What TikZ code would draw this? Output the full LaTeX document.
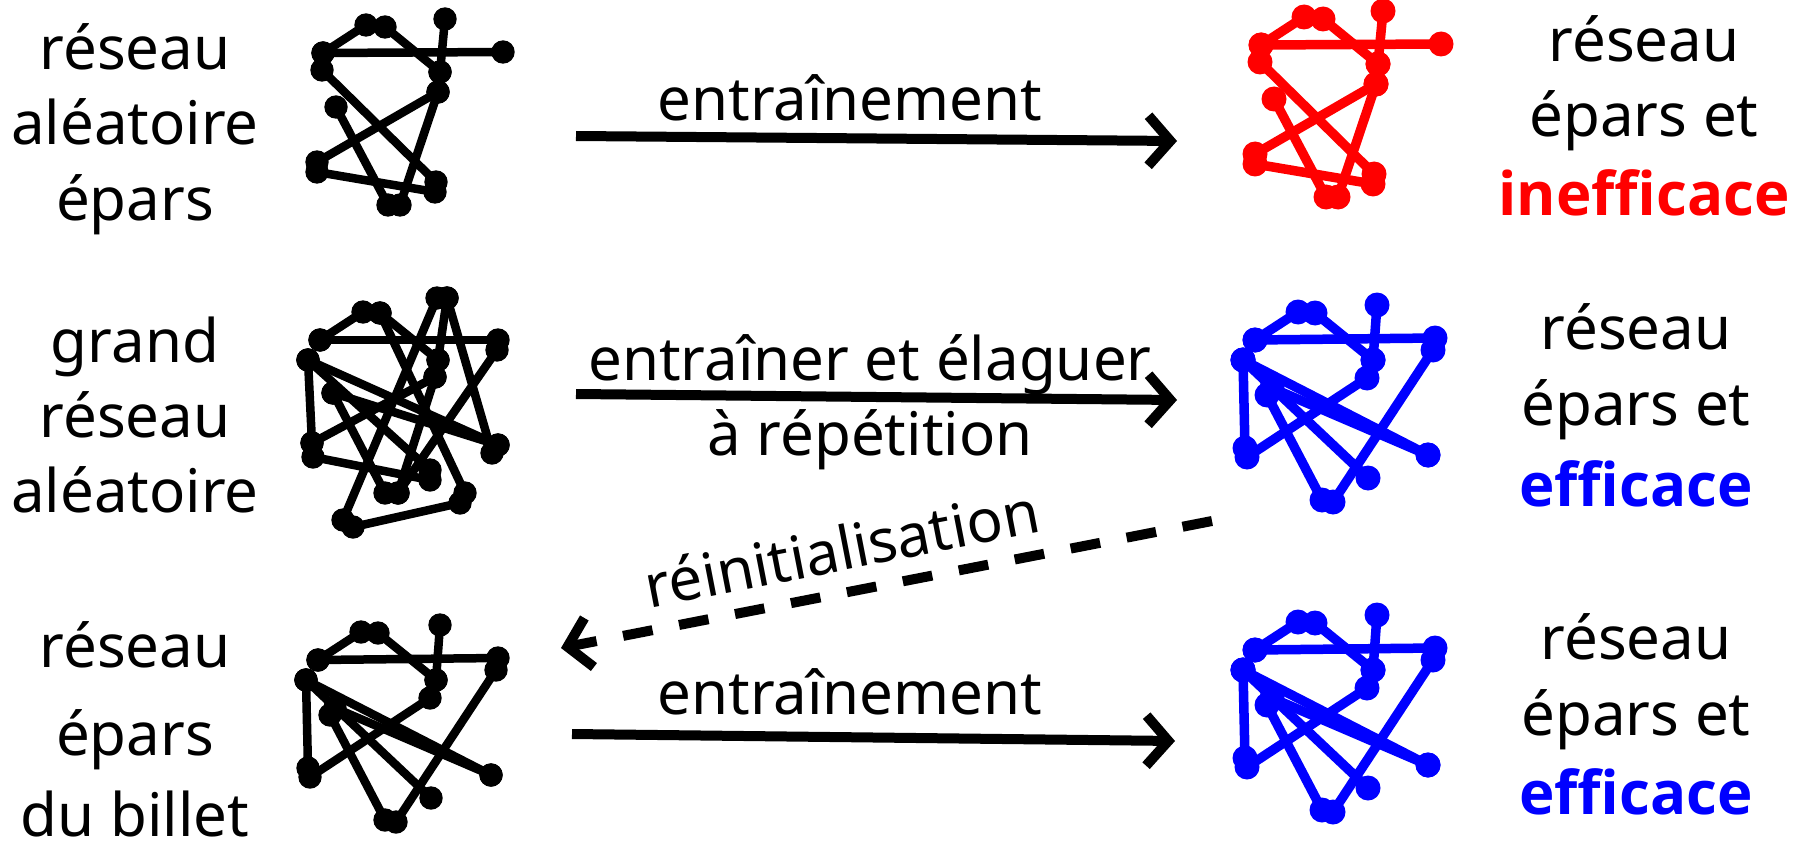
\documentclass[tikz,border=0pt]{standalone}
\usepackage{fontspec}
\setmainfont{Noto Sans}
\newfontfamily\heavyfont{Open Sans}
\usetikzlibrary{arrows.meta}
\definecolor{netred}{RGB}{255,0,0}
\definecolor{netblue}{RGB}{0,0,255}

% #1 prefix, #2 colour, #3 shift, #4 point list macro, #5 edge list macro, #6 line width, #7 dot radius
\newcommand\netgraph[7]{%
  \begin{scope}[shift={#3}]
    \foreach \n/\x/\y in #4 {\coordinate (#1\n) at (\x,\y);}
  \end{scope}
  \foreach \a/\b in #5 {\draw[draw=#2, line width=#6] (#1\a) -- (#1\b);}
  \foreach \a/\b in #5 {\fill[#2] (#1\a) circle[radius=#7] (#1\b) circle[radius=#7];}
}

% point sets
\newcommand\sparsepts{A/76/25, B/95/27, C/155/19, D/213/52, E/33/53, F/32/70, G/150/72, H/148/92, I/46/107, J/27/162, K/27/172, L/146/182, M/145/192, N/98/205, O/110/205}
\newcommand\sparseedges{E/A, B/G, E/D, C/G, F/L, H/J, H/O, I/N, K/M}
\newcommand\ticketpts{A/78/32, B/95/33, C/157/25, D/215/58, D2/213/70, E/35/60, F/23/80, G/153/80, H/147/98, I/47/115, I2/52/108, J/25/168, K/27/177, R/208/175, S/148/198, N/102/220, O/113/222}
\newcommand\ticketedges{E/A, B/G, E/D, C/G, F/J, H/K, F/R, I2/R, F/S, I/N, D2/O}
\newcommand\densepts{A/73/32, B/90/33, T/147/18, C/157/18, E/30/60, F/18/80, D/208/60, D2/207/70, G/148/80, H/145/97, I/43/113, J/22/163, K/23/177, R/208/165, R2/202/173, L/140/190, M/140/200, N/95/213, O/108/213, U/175/213, U2/170/223, V/53/240, V2/63/247}
\newcommand\denseedges{E/A, B/G, E/D, C/G, F/L, H/J, H/O, I/N, K/M, F/J, F/R, I/R, D2/O, T/V, C/R2, V2/U2, B/U}

\begin{document}
\begin{tikzpicture}[x=1pt,y=-1pt,
  word/.style={font=\fontsize{60}{75}\selectfont, inner sep=0pt, anchor=base},
  strong/.style={word, font=\heavyfont\bfseries\fontsize{60}{75}\selectfont},
  flow/.style={line width=10pt, -{Straight Barb[length=22pt,width=50pt]}},
  reset/.style={flow, dash pattern=on 30pt off 27pt},
]
\useasboundingbox (0,0) rectangle (1806,861);

% networks
\netgraph{s}{black}{(290,0)}{\sparsepts}{\sparseedges}{8.5pt}{11.7pt}
\netgraph{r}{netred}{(1228,-8)}{\sparsepts}{\sparseedges}{9.5pt}{12.5pt}
\netgraph{d}{black}{(290,280)}{\densepts}{\denseedges}{8.5pt}{11.7pt}
\netgraph{w}{netblue}{(1220,280)}{\ticketpts}{\ticketedges}{9.5pt}{12.5pt}
\netgraph{t}{black}{(283,600)}{\ticketpts}{\ticketedges}{8.5pt}{11.7pt}
\netgraph{v}{netblue}{(1220,590)}{\ticketpts}{\ticketedges}{9.5pt}{12.5pt}

% left column
\node[word] (l1) at (135,70) {réseau};
\node[word] (l2) at (135,145) {aléatoire};
\node[word] (l3) at (135,220) {épars};
\node[word] (l4) at (135,362) {grand};
\node[word] (l5) at (135,437) {réseau};
\node[word] (l6) at (135,512) {aléatoire};
\node[word] (l7) at (135,667) {réseau};
\node[word] (l8) at (135,755) {épars};
\node[word] (l9) at (135,836) {du billet};

% right column
\node[word] (q1) at (1644,62) {réseau};
\node[word] (q2) at (1644,137) {épars et};
\node[strong, text=netred] (q3) at (1644,215) {inefficace};
\node[word] (q4) at (1636,349) {réseau};
\node[word] (q5) at (1636,425) {épars et};
\node[strong, text=netblue] (q6) at (1636,506) {efficace};
\node[word] (q7) at (1636,659) {réseau};
\node[word] (q8) at (1636,735) {épars et};
\node[strong, text=netblue] (q9) at (1636,814) {efficace};

% arrows
\coordinate (a1s) at (576,136); \coordinate (a1e) at (1177,141);
\coordinate (a2s) at (576,394); \coordinate (a2e) at (1177,400);
\coordinate (a4s) at (572,734); \coordinate (a4e) at (1175,741);
\coordinate (a3s) at (1212,521); \coordinate (a3e) at (561,648);
\draw[flow] (a1s) -- (a1e);
\draw[flow] (a2s) -- (a2e);
\draw[flow] (a4s) -- (a4e);
\draw[reset] (a3s) -- (a3e);

\node[word] (m1) at (850,121) {entraînement};
\node[word] (m2) at (870,380) {entraîner et élaguer};
\node[word] (m3) at (870,455) {à répétition};
\node[word] (m4) at (850,714) {entraînement};
\node[word, rotate=11] (m5) at (846,570) {réinitialisation};
\end{tikzpicture}
\end{document}
